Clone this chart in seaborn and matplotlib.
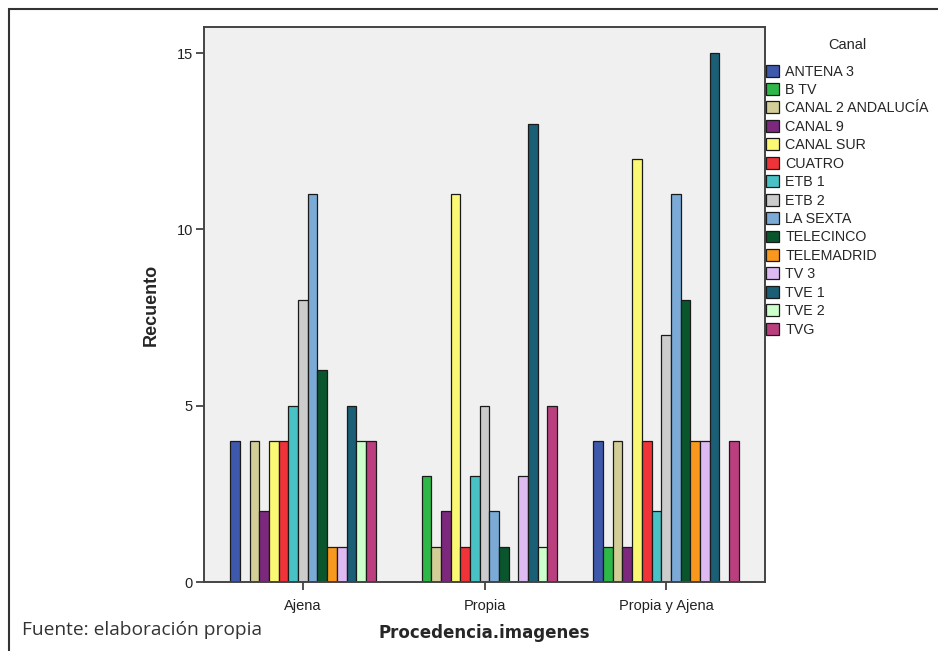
import pandas as pd
import matplotlib.pyplot as plt
import seaborn as sns
from matplotlib.patches import Patch, Rectangle

# data
procedencia = ['Ajena', 'Propia', 'Propia y Ajena']
canales = ['ANTENA 3', 'B TV', 'CANAL 2 ANDALUCÍA', 'CANAL 9', 'CANAL SUR', 'CUATRO',
           'ETB 1', 'ETB 2', 'LA SEXTA', 'TELECINCO', 'TELEMADRID', 'TV 3', 'TVE 1',
           'TVE 2', 'TVG']
ajena = [4, 0, 4, 2, 4, 4, 5, 8, 11, 6, 1, 1, 5, 4, 4]
propia = [0, 3, 1, 2, 11, 1, 3, 5, 2, 1, 0, 3, 13, 1, 5]
propia_y_ajena = [4, 1, 4, 1, 12, 4, 2, 7, 11, 8, 4, 4, 15, 0, 4]
colores = ['#3E58AC', '#2EB848', '#D3CE97', '#7C287D', '#FBF873', '#EF3338',
           '#48C2C5', '#CCCCCC', '#7AAAD5', '#0A562C', '#F8981D', '#DDBAF1',
           '#1A5F76', '#CCFFCC', '#BB3F7F']

rows = []
for proc, vals in zip(procedencia, [ajena, propia, propia_y_ajena]):
    for canal, v in zip(canales, vals):
        rows.append({'Procedencia.imagenes': proc, 'Canal': canal, 'Recuento': v})
df = pd.DataFrame(rows)
df = df[df['Recuento'] > 0]  # zero counts leave an empty slot

sns.set_style('white')
plt.rcParams['font.family'] = ['Liberation Sans', 'DejaVu Sans']

fig = plt.figure(figsize=(9.38, 6.51), dpi=100)
ax = fig.add_axes([204 / 938, 1 - 582 / 651, 561 / 938, 555 / 651])
ax.set_facecolor('#F0F0F0')

sns.barplot(data=df, x='Procedencia.imagenes', y='Recuento', hue='Canal',
            order=procedencia, hue_order=canales, palette=colores, saturation=1,
            errorbar=None, width=0.8, edgecolor='#1a1a1a', linewidth=0.9,
            legend=False, ax=ax)

ax.set_xlim(-0.545, 2.545)
ax.set_ylim(0, 15.74)
ax.set_yticks([0, 5, 10, 15])
for s in ax.spines.values():
    s.set_color('#444444')
    s.set_linewidth(1.4)
ax.tick_params(axis='both', direction='out', length=6, width=1.2, color='#333333',
               labelsize=10.5, labelcolor='#222222', bottom=True, left=True)
ax.tick_params(axis='x', pad=6)
ax.tick_params(axis='y', pad=2)

ax.set_ylabel('Recuento', fontsize=13, fontweight='bold', labelpad=12)
ax.set_xlabel('Procedencia.imagenes', fontsize=12, fontweight='bold', labelpad=8,
              family=['DejaVu Sans'])

handles = [Patch(facecolor=c, edgecolor='#1a1a1a', linewidth=0.9) for c in colores]
leg = fig.legend(handles, canales, title='Canal', loc='upper left',
                 bbox_to_anchor=(766 / 938, 1 - 38 / 651), frameon=False,
                 fontsize=10.3, title_fontsize=10.5, handlelength=0.9, handleheight=0.9,
                 handletextpad=0.45, labelspacing=0.31, borderaxespad=0, borderpad=0)
leg._legend_box.sep = 9

fig.text(22 / 938, 1 - 630 / 651, 'Fuente: elaboración propia', fontsize=13.8,
         family=['Open Sans', 'DejaVu Sans'], color='#333333', va='center')

# outer frame of the figure
fig.patches.append(Rectangle((9 / 938, -0.1), 1.1, 1.1 - 9 / 651, transform=fig.transFigure,
                             fill=False, edgecolor='#333333', linewidth=1.5))

fig.savefig('out.png', dpi=100)
